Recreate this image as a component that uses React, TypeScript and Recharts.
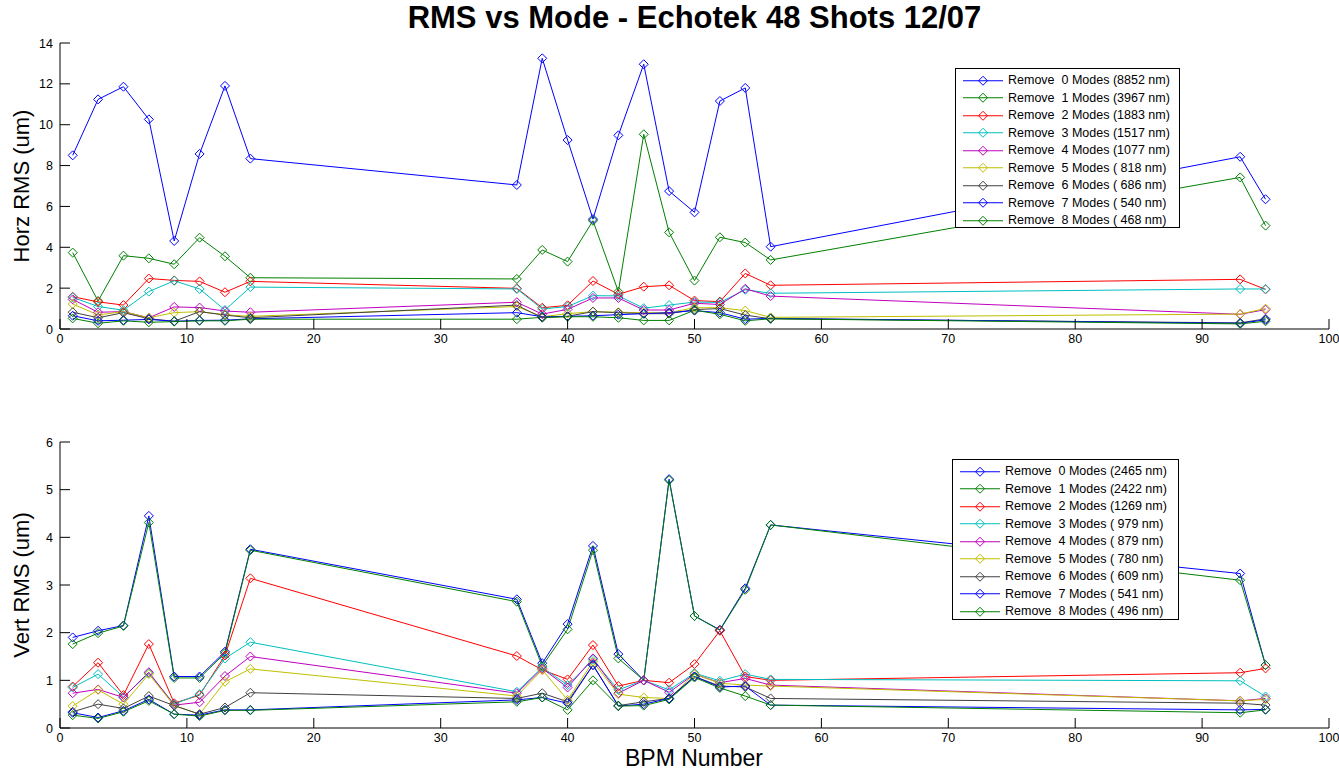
import React from 'react';
import { LineChart, Line, XAxis, YAxis } from 'recharts';

const FONT = '"Liberation Sans", Arial, Helvetica, sans-serif';

// BPM indices that were measured
const bpm = [1, 3, 5, 7, 9, 11, 13, 15, 36, 38, 40, 42, 44, 46, 48, 50, 52, 54, 56, 93, 95];

// Horizontal RMS (um) after removing N modes
const horz0 = [8.5, 11.24, 11.86, 10.26, 4.31, 8.57, 11.9, 8.34, 7.05, 13.25, 9.25, 5.38, 9.48, 12.96, 6.75, 5.71, 11.16, 11.8, 4.03, 8.43, 6.35];
const horz1 = [3.74, 1.37, 3.59, 3.46, 3.17, 4.47, 3.56, 2.51, 2.45, 3.87, 3.3, 5.3, 1.83, 9.53, 4.73, 2.37, 4.49, 4.23, 3.38, 7.42, 5.06];
const horz2 = [1.58, 1.33, 1.17, 2.47, 2.38, 2.33, 1.8, 2.33, 1.99, 1.04, 1.16, 2.35, 1.7, 2.07, 2.14, 1.39, 1.34, 2.72, 2.14, 2.43, 1.94];
const horz3 = [1.55, 1.1, 0.92, 1.83, 2.36, 1.96, 0.93, 2.05, 1.96, 0.98, 1.1, 1.63, 1.62, 1.02, 1.17, 1.32, 1.3, 1.92, 1.75, 1.96, 1.96];
const horz4 = [1.45, 0.82, 0.85, 0.55, 1.08, 1.05, 0.88, 0.82, 1.31, 0.73, 0.96, 1.52, 1.52, 0.93, 0.93, 1.26, 1.2, 1.97, 1.61, 0.72, 0.95];
const horz5 = [1.22, 0.69, 0.85, 0.55, 0.8, 0.85, 0.7, 0.62, 1.1, 0.6, 0.75, 0.85, 0.82, 0.8, 0.8, 1.04, 1.04, 0.9, 0.57, 0.73, 1.0];
const horz6 = [0.82, 0.55, 0.8, 0.5, 0.38, 0.85, 0.68, 0.55, 1.17, 0.55, 0.62, 0.85, 0.8, 0.75, 0.75, 0.95, 1.0, 0.68, 0.5, 0.3, 0.5];
const horz7 = [0.65, 0.4, 0.43, 0.47, 0.38, 0.42, 0.43, 0.5, 0.8, 0.6, 0.62, 0.65, 0.7, 0.75, 0.8, 0.9, 0.8, 0.48, 0.52, 0.28, 0.45];
const horz8 = [0.52, 0.28, 0.4, 0.33, 0.36, 0.4, 0.4, 0.48, 0.48, 0.57, 0.6, 0.6, 0.55, 0.42, 0.42, 0.92, 0.72, 0.4, 0.5, 0.25, 0.38];
const horzTotals = [8852, 3967, 1883, 1517, 1077, 818, 686, 540, 468];

// Vertical RMS (um) after removing N modes
const vert0 = [1.9, 2.04, 2.15, 4.45, 1.08, 1.08, 1.6, 3.75, 2.7, 1.36, 2.18, 3.82, 1.55, 1.0, 5.22, 2.35, 2.06, 2.93, 4.26, 3.24, 1.32];
const vert1 = [1.76, 1.99, 2.14, 4.31, 1.05, 1.05, 1.57, 3.73, 2.65, 1.3, 2.07, 3.73, 1.46, 1.0, 5.2, 2.35, 2.05, 2.9, 4.26, 3.1, 1.32];
const vert2 = [0.87, 1.37, 0.69, 1.76, 0.52, 0.69, 1.52, 3.14, 1.51, 1.22, 1.02, 1.74, 0.88, 1.0, 0.95, 1.34, 2.04, 1.08, 1.0, 1.16, 1.25];
const vert3 = [0.85, 1.13, 0.65, 1.15, 0.5, 0.71, 1.46, 1.8, 0.76, 1.27, 0.9, 1.43, 0.8, 1.0, 0.8, 1.15, 0.99, 1.13, 1.02, 0.99, 0.66];
const vert4 = [0.73, 0.81, 0.64, 1.17, 0.48, 0.54, 1.09, 1.5, 0.73, 1.25, 0.85, 1.46, 0.73, 1.0, 0.75, 1.13, 0.95, 1.04, 0.9, 0.57, 0.62];
const vert5 = [0.46, 0.8, 0.5, 1.13, 0.47, 0.29, 0.97, 1.24, 0.67, 1.22, 0.59, 1.39, 0.71, 0.64, 0.62, 1.13, 0.94, 0.9, 0.88, 0.57, 0.6];
const vert6 = [0.34, 0.5, 0.41, 0.67, 0.47, 0.29, 0.43, 0.74, 0.62, 0.73, 0.55, 1.32, 0.47, 0.55, 0.62, 1.08, 0.88, 0.86, 0.62, 0.52, 0.48];
const vert7 = [0.32, 0.22, 0.36, 0.6, 0.29, 0.27, 0.38, 0.38, 0.59, 0.64, 0.52, 1.32, 0.46, 0.5, 0.62, 1.08, 0.86, 0.88, 0.48, 0.38, 0.39];
const vert8 = [0.27, 0.2, 0.34, 0.57, 0.29, 0.25, 0.37, 0.37, 0.55, 0.64, 0.38, 1.0, 0.46, 0.47, 0.6, 1.06, 0.84, 0.67, 0.48, 0.32, 0.38];
const vertTotals = [2465, 2422, 1269, 979, 879, 780, 609, 541, 496];

// MATLAB default line colour order, cycled for modes 7 and 8
const modeColors = ['#0000ff', '#008000', '#ff0000', '#00bfbf', '#bf00bf', '#bfbf00', '#404040', '#0000ff', '#008000'];

const xTicks = [0, 10, 20, 30, 40, 50, 60, 70, 80, 90, 100];
const horzTicks = [0, 2, 4, 6, 8, 10, 12, 14];
const vertTicks = [0, 1, 2, 3, 4, 5, 6];

const horzSeries = [horz0, horz1, horz2, horz3, horz4, horz5, horz6, horz7, horz8];
const vertSeries = [vert0, vert1, vert2, vert3, vert4, vert5, vert6, vert7, vert8];

// plot box inside each chart svg
const PLOT_LEFT = 60;
const PLOT_RIGHT = 1329;
const PLOT_TOP = 43;
const TICK_LEN = 10;

function buildRows(series: number[][]) {
  return bpm.map((b, i) => {
    const row: Record<string, number> = { bpm: b };
    series.forEach((s, m) => {
      row[`m${m}`] = s[i];
    });
    return row;
  });
}

const R = 4.5;

function diamondPoints(cx: number, cy: number) {
  return `${cx},${cy - R} ${cx + R},${cy} ${cx},${cy + R} ${cx - R},${cy}`;
}

const diamondDot = (color: string) => (props: any) => {
  const { cx, cy, index } = props;
  if (cx == null || cy == null) return <g key={`e${index}`} />;
  return (
    <polygon key={`d${index}`} points={diamondPoints(cx, cy)} fill="none" stroke={color} strokeWidth={1} />
  );
};

// inward MATLAB-style ticks
const bottomTick = (plotBottom: number) => (props: any) => {
  const { x, payload } = props;
  return (
    <g>
      <line x1={x} x2={x} y1={plotBottom} y2={plotBottom - TICK_LEN} stroke="#000" />
      <text x={x} y={plotBottom + 14} textAnchor="middle" fontSize={12.5} fontFamily={FONT} fill="#000">
        {payload.value}
      </text>
    </g>
  );
};

const topTick = (props: any) => {
  const { x } = props;
  return <line x1={x} x2={x} y1={PLOT_TOP} y2={PLOT_TOP + TICK_LEN} stroke="#000" />;
};

const leftTick = (props: any) => {
  const { y, payload } = props;
  return (
    <g>
      <line x1={PLOT_LEFT} x2={PLOT_LEFT + TICK_LEN} y1={y} y2={y} stroke="#000" />
      <text x={PLOT_LEFT - 7} y={y + 4.5} textAnchor="end" fontSize={12.5} fontFamily={FONT} fill="#000">
        {payload.value}
      </text>
    </g>
  );
};

const rightTick = (props: any) => {
  const { y } = props;
  return <line x1={PLOT_RIGHT} x2={PLOT_RIGHT - TICK_LEN} y1={y} y2={y} stroke="#000" />;
};

const legendLabel = (mode: number, total: number) =>
  `Remove ${String(mode).padStart(2)} Modes (${String(total).padStart(4)} nm)`;

function ModeLegend({ left, top, width, height, totals }: { left: number; top: number; width: number; height: number; totals: number[] }) {
  return (
    <div
      style={{
        position: 'absolute',
        left,
        top,
        width,
        height,
        boxSizing: 'border-box',
        border: '1px solid #000',
        background: '#fff',
        paddingTop: 2.5,
        fontFamily: FONT,
        fontSize: 12.5,
        color: '#000',
      }}
    >
      {totals.map((t, m) => (
        <div key={m} style={{ height: 17.5, display: 'flex', alignItems: 'center' }}>
          <svg width={52} height={17.5} style={{ flex: 'none' }}>
            <line x1={7} x2={47} y1={8.75} y2={8.75} stroke={modeColors[m]} strokeWidth={1} />
            <polygon points={`27,${8.75 - R} ${27 + R},8.75 27,${8.75 + R} ${27 - R},8.75`} fill="none" stroke={modeColors[m]} />
          </svg>
          <span style={{ whiteSpace: 'pre' }}>{legendLabel(m, t)}</span>
        </div>
      ))}
    </div>
  );
}

interface PanelProps {
  top: number;
  height: number;
  bottomGap: number;
  series: number[][];
  yMax: number;
  yTicks: number[];
}

function RmsPanel({ top, height, bottomGap, series, yMax, yTicks }: PanelProps) {
  const rows = buildRows(series);
  const plotBottom = height - 31 - bottomGap;
  const axisLine = { stroke: '#000', strokeWidth: 1 };
  return (
    <div style={{ position: 'absolute', left: 0, top }}>
      <LineChart width={1339} height={height} data={rows} margin={{ top: PLOT_TOP, right: 1339 - PLOT_RIGHT, left: 0, bottom: bottomGap }}>
        <XAxis
          dataKey="bpm"
          type="number"
          domain={[0, 100]}
          ticks={xTicks}
          height={31}
          axisLine={axisLine}
          tickLine={false}
          tick={bottomTick(plotBottom)}
          interval={0}
        />
        <XAxis
          xAxisId="top"
          orientation="top"
          dataKey="bpm"
          type="number"
          domain={[0, 100]}
          ticks={xTicks}
          height={0}
          axisLine={axisLine}
          tickLine={false}
          tick={topTick}
          interval={0}
        />
        <YAxis
          type="number"
          domain={[0, yMax]}
          ticks={yTicks}
          width={PLOT_LEFT}
          axisLine={axisLine}
          tickLine={false}
          tick={leftTick}
          interval={0}
        />
        <YAxis
          yAxisId="right"
          orientation="right"
          type="number"
          domain={[0, yMax]}
          ticks={yTicks}
          width={0}
          axisLine={axisLine}
          tickLine={false}
          tick={rightTick}
          interval={0}
        />
        {series.map((_, m) => (
          <Line
            key={m}
            type="linear"
            dataKey={`m${m}`}
            stroke={modeColors[m]}
            strokeWidth={1}
            dot={diamondDot(modeColors[m])}
            activeDot={false}
            isAnimationActive={false}
          />
        ))}
      </LineChart>
    </div>
  );
}

export default function App() {
  return (
    <div style={{ position: 'absolute', left: 0, top: 0, width: 1339, height: 771, background: '#fff', fontFamily: FONT }}>
      <div
        style={{
          position: 'absolute',
          left: 60,
          width: 1269,
          top: 0,
          textAlign: 'center',
          fontWeight: 'bold',
          fontSize: 31,
          lineHeight: '36px',
        }}
      >
        RMS vs Mode - Echotek 48 Shots 12/07
      </div>

      <RmsPanel top={0} height={360} bottomGap={0} series={horzSeries} yMax={14} yTicks={horzTicks} />
      <RmsPanel top={399} height={372} bottomGap={12} series={vertSeries} yMax={6} yTicks={vertTicks} />

      <ModeLegend left={955} top={68} width={225} height={160} totals={horzTotals} />
      <ModeLegend left={952} top={459} width={227} height={161} totals={vertTotals} />

      <div
        style={{
          position: 'absolute',
          left: 22,
          top: 186,
          transform: 'translate(-50%, -50%) rotate(-90deg)',
          whiteSpace: 'nowrap',
          fontSize: 22,
        }}
      >
        Horz RMS (um)
      </div>
      <div
        style={{
          position: 'absolute',
          left: 22,
          top: 585,
          transform: 'translate(-50%, -50%) rotate(-90deg)',
          whiteSpace: 'nowrap',
          fontSize: 22,
        }}
      >
        Vert RMS (um)
      </div>
      <div
        style={{
          position: 'absolute',
          left: 694,
          top: 758,
          transform: 'translate(-50%, -50%)',
          whiteSpace: 'nowrap',
          fontSize: 23,
        }}
      >
        BPM Number
      </div>
    </div>
  );
}
